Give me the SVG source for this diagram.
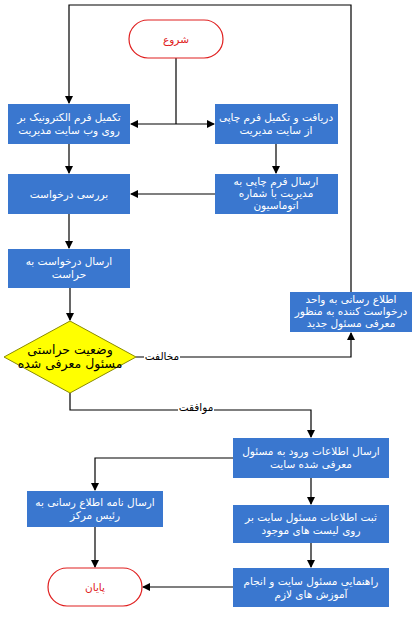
<svg xmlns="http://www.w3.org/2000/svg" width="418" height="618" viewBox="0 0 418 618">
<style>
.box{fill:#3a77cf;stroke:none}
.bt{fill:#ffffff;font-family:"DejaVu Sans",sans-serif;font-size:10.5px;text-anchor:middle}
.term{fill:#ffffff;stroke:#e02020;stroke-width:1.2}
.tt{fill:#e02020;font-family:"DejaVu Sans",sans-serif;font-size:10.5px;text-anchor:middle}
.dt{fill:#000000;font-family:"DejaVu Sans",sans-serif;font-size:12.5px;text-anchor:middle}
.ln{fill:none;stroke:#000000;stroke-width:1.2}
.lbl{fill:#000000;font-family:"DejaVu Sans",sans-serif;font-size:10.5px;text-anchor:middle}
</style>
<defs>
<marker id="ah" markerWidth="8" markerHeight="8" refX="7" refY="4" orient="auto" markerUnits="userSpaceOnUse">
<path d="M0,0 L8,4 L0,8 Z" fill="#000000"/>
</marker>
</defs>
<rect width="418" height="618" fill="#ffffff"/>
<g id="connectors">
<path class="ln" d="M351,293 V5 H69 V103" marker-end="url(#ah)"/>
<path class="ln" d="M176,58 V124"/>
<path class="ln" d="M176,124 H131" marker-end="url(#ah)"/>
<path class="ln" d="M176,124 H214" marker-end="url(#ah)"/>
<path class="ln" d="M69,144 V173" marker-end="url(#ah)"/>
<path class="ln" d="M276,144 V173" marker-end="url(#ah)"/>
<path class="ln" d="M215,194 H131" marker-end="url(#ah)"/>
<path class="ln" d="M69,214 V248" marker-end="url(#ah)"/>
<path class="ln" d="M70,288 V320" marker-end="url(#ah)"/>
<path class="ln" d="M136,357 H351 V333" marker-end="url(#ah)"/>
<path class="ln" d="M70,393 V410 H311 V437" marker-end="url(#ah)"/>
<path class="ln" d="M233,458 H95 V490" marker-end="url(#ah)"/>
<path class="ln" d="M311,478 V504" marker-end="url(#ah)"/>
<path class="ln" d="M311,543 V567" marker-end="url(#ah)"/>
<path class="ln" d="M95,527 V567" marker-end="url(#ah)"/>
<path class="ln" d="M233,587 H143" marker-end="url(#ah)"/>
<rect x="144" y="350" width="36" height="13" fill="#ffffff"/>
<text class="lbl" x="162" y="360">مخالفت</text>
<rect x="178" y="402" width="36" height="13" fill="#ffffff"/>
<text class="lbl" x="196" y="411">موافقت</text>
</g>
<g id="start">
<rect class="term" x="129" y="20" width="94" height="38" rx="19" ry="19"/>
<text class="tt" x="176" y="43">شروع</text>
</g>
<g id="n1">
<rect class="box" x="8" y="104" width="122" height="40"/>
<text class="bt" x="69" y="121">تکمیل فرم الکترونیک بر</text>
<text class="bt" x="69" y="134">روی وب سایت مدیریت</text>
</g>
<g id="n2">
<rect class="box" x="215" y="104" width="123" height="40"/>
<text class="bt" x="276" y="121">دریافت و تکمیل فرم چاپی</text>
<text class="bt" x="276" y="134">از سایت مدیریت</text>
</g>
<g id="n3">
<rect class="box" x="8" y="174" width="122" height="40"/>
<text class="bt" x="69" y="198">بررسی درخواست</text>
</g>
<g id="n4">
<rect class="box" x="215" y="174" width="123" height="40"/>
<text class="bt" x="276" y="185">ارسال فرم چاپی به</text>
<text class="bt" x="276" y="197">مدیریت با شماره</text>
<text class="bt" x="276" y="209">اتوماسیون</text>
</g>
<g id="n5">
<rect class="box" x="8" y="249" width="122" height="39"/>
<text class="bt" x="69" y="265">ارسال درخواست به</text>
<text class="bt" x="69" y="278">حراست</text>
</g>
<g id="n6">
<rect class="box" x="290" y="292" width="122" height="40"/>
<text class="bt" x="351" y="303">اطلاع رسانی به واحد</text>
<text class="bt" x="351" y="315">درخواست کننده به منظور</text>
<text class="bt" x="351" y="327">معرفی مسئول جدید</text>
</g>
<g id="decision">
<polygon points="70,321 136,357 70,393 4,357" fill="#ffff00" stroke="#8a8a00" stroke-width="1"/>
<text class="dt" x="70" y="354">وضعیت حراستی</text>
<text class="dt" x="70" y="368">مسئول معرفی شده</text>
</g>
<g id="n7">
<rect class="box" x="233" y="438" width="156" height="40"/>
<text class="bt" x="311" y="455">ارسال اطلاعات ورود به مسئول</text>
<text class="bt" x="311" y="468">معرفی شده سایت</text>
</g>
<g id="n8">
<rect class="box" x="233" y="505" width="156" height="38"/>
<text class="bt" x="311" y="521">ثبت اطلاعات مسئول سایت بر</text>
<text class="bt" x="311" y="534">روی لیست های موجود</text>
</g>
<g id="n9">
<rect class="box" x="233" y="568" width="156" height="39"/>
<text class="bt" x="311" y="585">راهنمایی مسئول سایت و انجام</text>
<text class="bt" x="311" y="598">آموزش های لازم</text>
</g>
<g id="n10">
<rect class="box" x="27" y="491" width="136" height="36"/>
<text class="bt" x="95" y="506">ارسال نامه اطلاع رسانی به</text>
<text class="bt" x="95" y="519">رئیس مرکز</text>
</g>
<g id="end">
<rect class="term" x="48" y="568" width="94" height="38" rx="19" ry="19"/>
<text class="tt" x="95" y="591">پایان</text>
</g>
</svg>
